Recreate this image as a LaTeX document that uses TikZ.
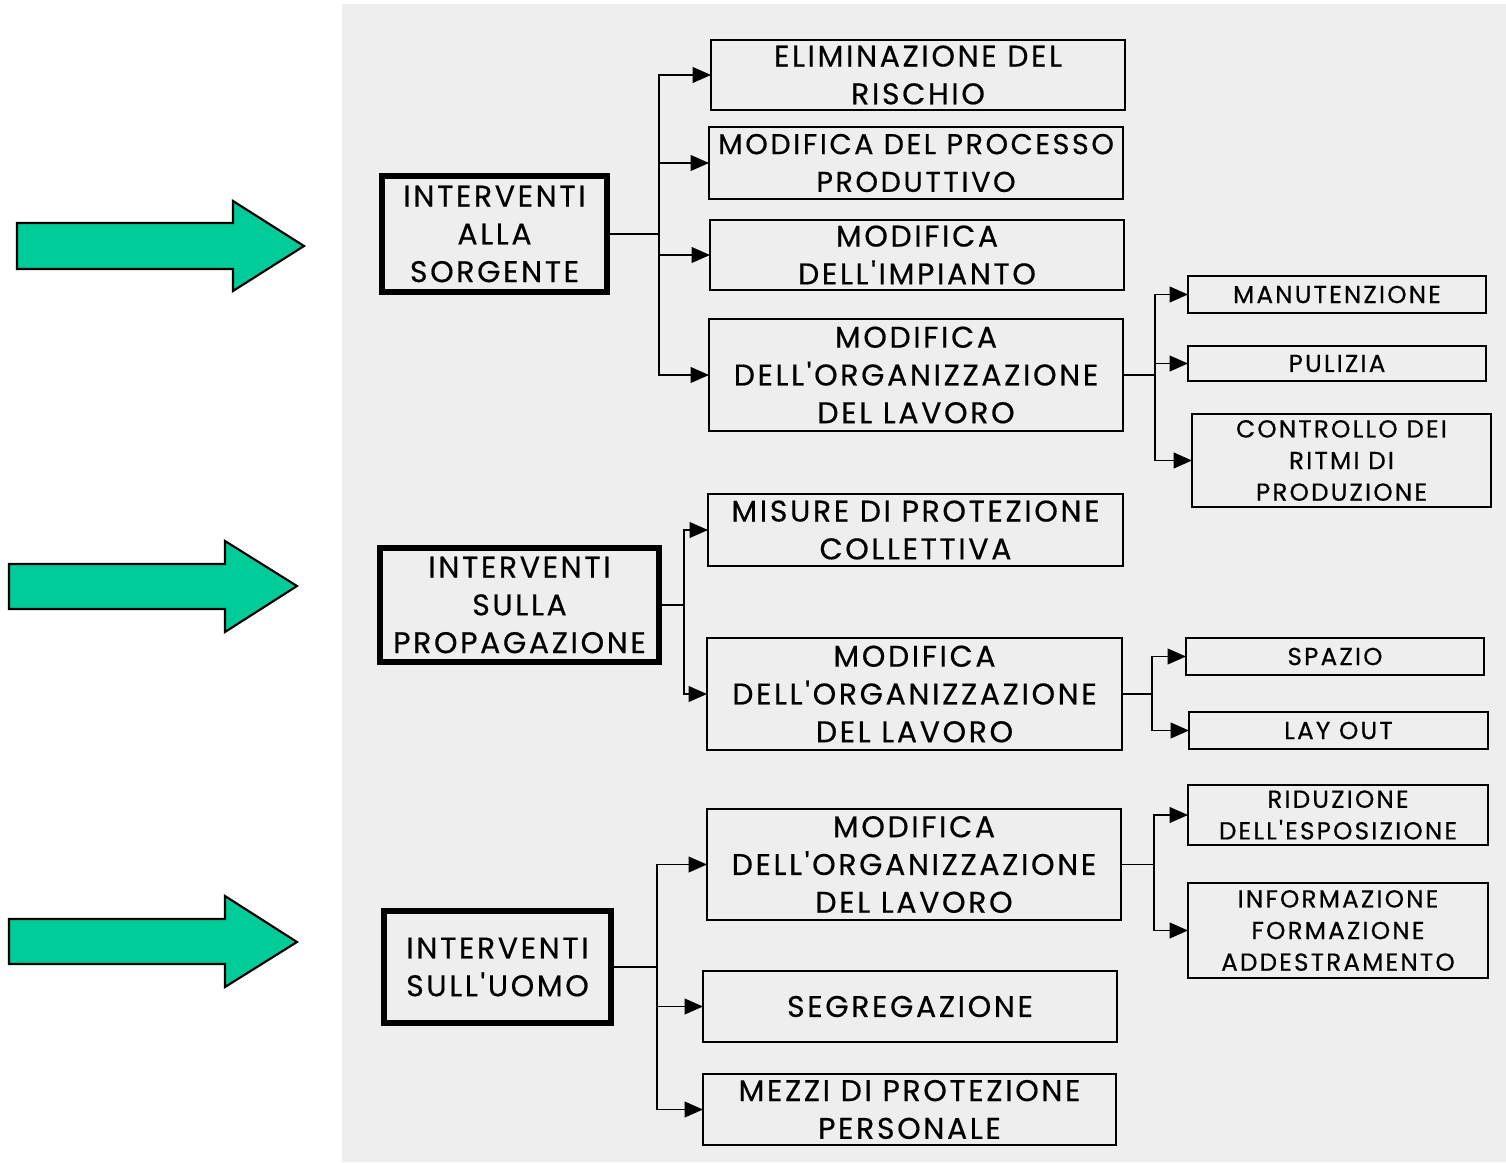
\documentclass[tikz,border=0pt]{standalone}
\usepackage{fontspec}
\setmainfont{Poppins}[LetterSpace=9,Ligatures=TeXOff,FakeBold=0.5]
\usetikzlibrary{arrows.meta}
\definecolor{bg}{RGB}{238,238,238}
\definecolor{arrgreen}{RGB}{0,204,153}
\newcommand\pbox[7]{\node[#2,minimum width={(#5-#3)*0.02cm},minimum height={(#6-#4)*0.02cm}] (#1) at ({(#3+#5)/2},{(#4+#6)/2}) {#7};}
\begin{document}
\begin{tikzpicture}[x=0.02cm,y=-0.02cm,
 mainbox/.style={draw,line width=3.3pt,inner sep=0pt,outer sep=0pt,align=center,font=\fontsize{17}{21.5}\selectfont},
 childbox/.style={draw,line width=1pt,inner sep=0pt,outer sep=0pt,align=center,font=\fontsize{17}{21.5}\selectfont},
 tightbox/.style={childbox,font=\fontsize{16.3}{21.5}\selectfont},
 smallbox/.style={draw,line width=1pt,inner sep=0pt,outer sep=0pt,align=center,font=\fontsize{14}{18}\selectfont},
 conn/.style={line width=0.9pt},
 arr/.style={line width=0.9pt,-{Triangle[length=10.5pt,width=9pt]}},
 bigarrow/.style={fill=arrgreen,draw=black,line width=1.2pt,line join=miter}]
\useasboundingbox (0,0) rectangle (1506,1162);
\fill[white] (0,0) rectangle (1506,1162);
\fill[bg] (342,4) rectangle (1506,1162);

% green arrows
\draw[bigarrow] (17,223) -- (233,223) -- (233,201) -- (304,246) -- (233,291) -- (233,269) -- (17,269) -- cycle;
\draw[bigarrow] (9,564) -- (225,564) -- (225,541) -- (297,586) -- (225,632) -- (225,609) -- (9,609) -- cycle;
\draw[bigarrow] (9,919) -- (225,919) -- (225,896) -- (297,942) -- (225,987) -- (225,964) -- (9,964) -- cycle;

% main boxes
\pbox{B1}{mainbox}{382}{176}{607}{292}{INTERVENTI\\ALLA\\SORGENTE}
\pbox{B2}{mainbox}{380}{548}{659}{662}{INTERVENTI\\SULLA\\PROPAGAZIONE}
\pbox{B3}{mainbox}{384}{911}{611}{1023}{INTERVENTI\\SULL'UOMO}

% first group
\pbox{c1}{childbox}{711}{40}{1125}{110}{ELIMINAZIONE DEL\\RISCHIO}
\pbox{c2}{tightbox}{709}{127}{1123}{199}{MODIFICA DEL PROCESSO\\PRODUTTIVO}
\pbox{c3}{childbox}{710}{220}{1124}{290}{MODIFICA\\DELL'IMPIANTO}
\pbox{c4}{childbox}{709}{319}{1123}{431}{MODIFICA\\DELL'ORGANIZZAZIONE\\DEL LAVORO}
\pbox{g1}{smallbox}{1188}{276}{1486}{313}{MANUTENZIONE}
\pbox{g2}{smallbox}{1188}{346}{1486}{381}{PULIZIA}
\pbox{g3}{smallbox}{1192}{414}{1491}{507}{CONTROLLO DEI\\RITMI DI\\PRODUZIONE}

% second group
\pbox{d1}{childbox}{708}{494}{1123}{566}{MISURE DI PROTEZIONE\\COLLETTIVA}
\pbox{d2}{childbox}{707}{638}{1122}{750}{MODIFICA\\DELL'ORGANIZZAZIONE\\DEL LAVORO}
\pbox{h1}{smallbox}{1186}{638}{1484}{675}{SPAZIO}
\pbox{h2}{smallbox}{1189}{712}{1488}{749}{LAY OUT}

% third group
\pbox{e1}{childbox}{707}{809}{1121}{920}{MODIFICA\\DELL'ORGANIZZAZIONE\\DEL LAVORO}
\pbox{e2}{childbox}{703}{971}{1117}{1042}{SEGREGAZIONE}
\pbox{e3}{childbox}{703}{1074}{1116}{1145}{MEZZI DI PROTEZIONE\\PERSONALE}
\pbox{i1}{smallbox}{1188}{785}{1488}{845}{RIDUZIONE\\DELL'ESPOSIZIONE}
\pbox{i2}{smallbox}{1188}{883}{1488}{978}{INFORMAZIONE\\FORMAZIONE\\ADDESTRAMENTO}

% junctions
\coordinate (j1) at (659,234);
\coordinate (j2) at (1155,375);
\coordinate (j3) at (684,605);
\coordinate (j4) at (1152,694);
\coordinate (j5) at (657,967);
\coordinate (j6) at (1154,864.5);

% connectors
\draw[conn] (B1.east) -- (j1);
\foreach \t in {c1,c2,c3,c4} \draw[arr] (j1) |- (\t.west);
\draw[conn] (c4.east) -- (j2);
\foreach \t in {g1,g2,g3} \draw[arr] (j2) |- (\t.west);
\draw[conn] (B2.east) -- (j3);
\foreach \t in {d1,d2} \draw[arr] (j3) |- (\t.west);
\draw[conn] (d2.east) -- (j4);
\foreach \t in {h1,h2} \draw[arr] (j4) |- (\t.west);
\draw[conn] (B3.east) -- (j5);
\foreach \t in {e1,e2,e3} \draw[arr] (j5) |- (\t.west);
\draw[conn] (e1.east) -- (j6);
\foreach \t in {i1,i2} \draw[arr] (j6) |- (\t.west);
\end{tikzpicture}
\end{document}
